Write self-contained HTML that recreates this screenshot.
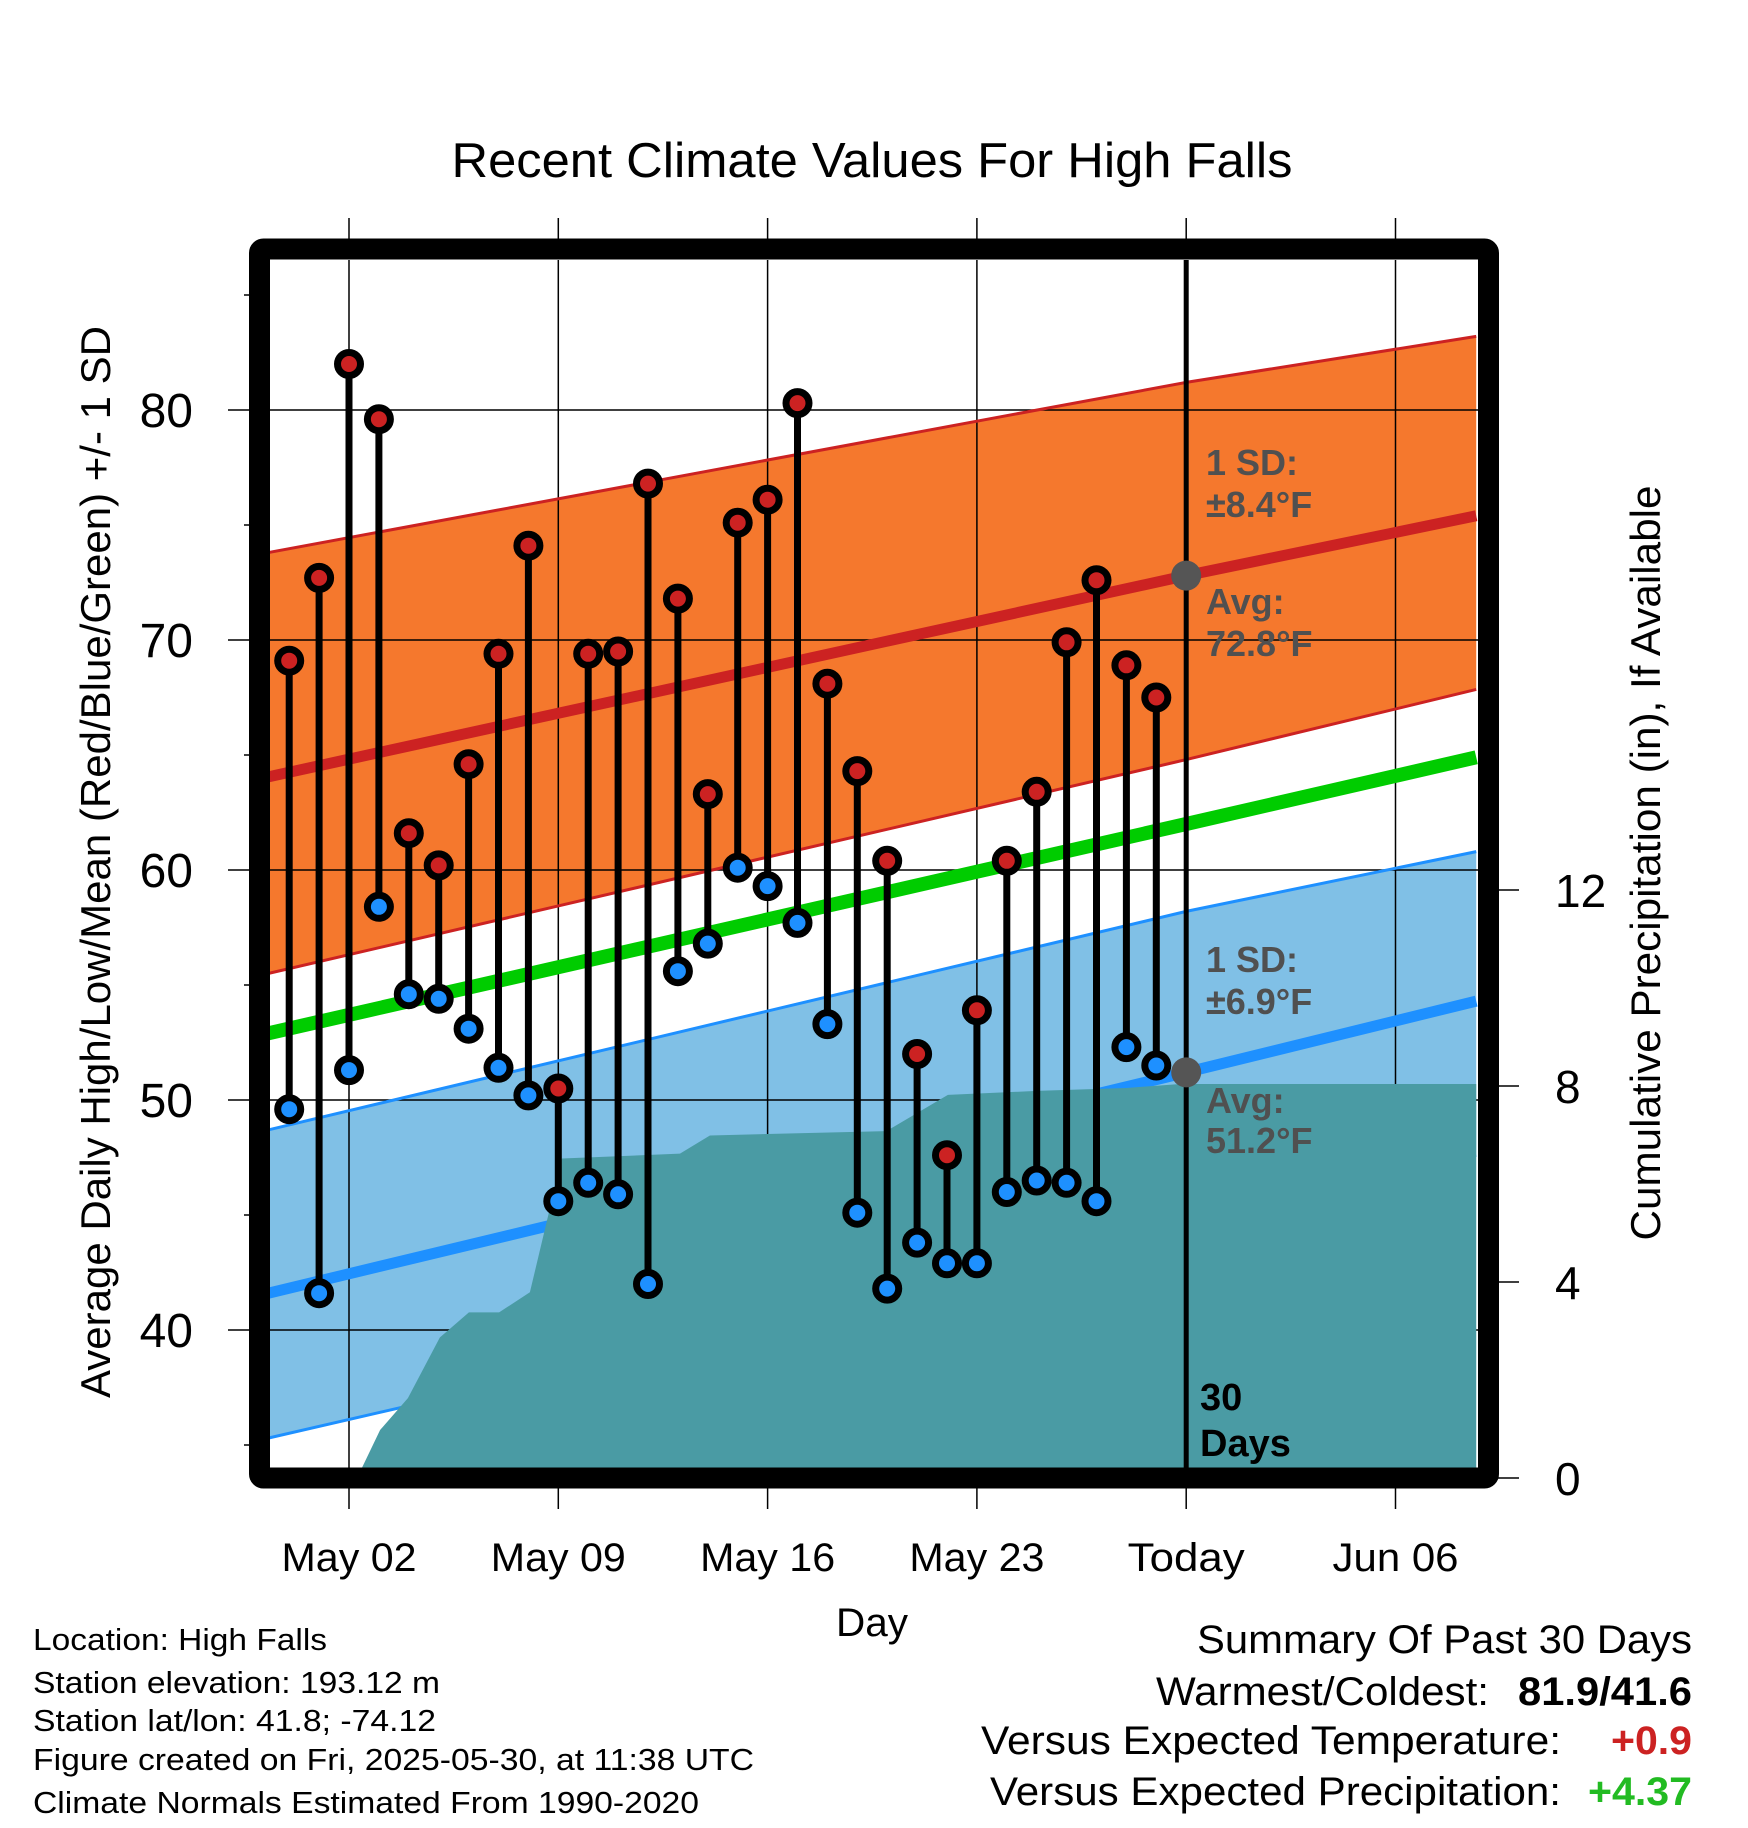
<!DOCTYPE html>
<html><head><meta charset="utf-8"><style>
html,body{margin:0;padding:0;background:#fff}
svg{display:block}
text{font-family:"Liberation Sans",Arial,sans-serif}
</style></head><body>
<svg id="chart" width="1748" height="1828" viewBox="0 0 1748 1828" xmlns="http://www.w3.org/2000/svg">
<defs><clipPath id="plotclip"><rect x="270" y="260" width="1208" height="1208"/></clipPath></defs>
<g id="plot" clip-path="url(#plotclip)"></g>
<g id="outside"></g>
<text x="872" y="177" text-anchor="middle" font-size="49" textLength="841" lengthAdjust="spacingAndGlyphs">Recent Climate Values For High Falls</text>
<text transform="translate(110,862) rotate(-90)" text-anchor="middle" font-size="42" textLength="1072" lengthAdjust="spacingAndGlyphs">Average Daily High/Low/Mean (Red/Blue/Green) +/- 1 SD</text>
<text transform="translate(1660,863) rotate(-90)" text-anchor="middle" font-size="42" textLength="755" lengthAdjust="spacingAndGlyphs">Cumulative Precipitation (in), If Available</text>
<text x="872" y="1636" text-anchor="middle" font-size="40" textLength="72" lengthAdjust="spacingAndGlyphs">Day</text>
<g font-size="31">
<text x="33" y="1650" textLength="294" lengthAdjust="spacingAndGlyphs">Location: High Falls</text>
<text x="33" y="1693" textLength="407" lengthAdjust="spacingAndGlyphs">Station elevation: 193.12 m</text>
<text x="33" y="1731" textLength="403" lengthAdjust="spacingAndGlyphs">Station lat/lon: 41.8; -74.12</text>
<text x="33" y="1770" textLength="721" lengthAdjust="spacingAndGlyphs">Figure created on Fri, 2025-05-30, at 11:38 UTC</text>
<text x="33" y="1813" textLength="666" lengthAdjust="spacingAndGlyphs">Climate Normals Estimated From 1990-2020</text>
</g>
<g font-size="40">
<text x="1692" y="1653" text-anchor="end" textLength="495" lengthAdjust="spacingAndGlyphs">Summary Of Past 30 Days</text>
<text x="1489" y="1705" text-anchor="end" textLength="333" lengthAdjust="spacingAndGlyphs">Warmest/Coldest:</text>
<text x="1692" y="1705" text-anchor="end" font-weight="bold" textLength="174" lengthAdjust="spacingAndGlyphs">81.9/41.6</text>
<text x="1561" y="1754" text-anchor="end" textLength="580" lengthAdjust="spacingAndGlyphs">Versus Expected Temperature:</text>
<text x="1692" y="1754" text-anchor="end" font-weight="bold" fill="#cc2222" textLength="81" lengthAdjust="spacingAndGlyphs">+0.9</text>
<text x="1561" y="1805" text-anchor="end" textLength="571" lengthAdjust="spacingAndGlyphs">Versus Expected Precipitation:</text>
<text x="1692" y="1805" text-anchor="end" font-weight="bold" fill="#22bb22" textLength="104" lengthAdjust="spacingAndGlyphs">+4.37</text>
</g>
</svg>
<script>
// ---- data ----
const dayIdx = [0,1,2,3,4,5,6,7,8,9,10,11,12,13,14,15,16,17,18,19,20,21,22,23,24,25,26,27,28,29];
const highs = [69.1,72.7,82.0,79.6,61.6,60.2,64.6,69.4,74.1,50.5,69.4,69.5,76.8,71.8,63.3,75.1,76.1,80.3,68.1,64.3,60.4,52.0,47.6,53.9,60.4,63.4,69.9,72.6,68.9,67.5];
const lows = [49.6,41.6,51.3,58.4,54.6,54.4,53.1,51.4,50.2,45.6,46.4,45.9,42.0,55.6,56.8,60.1,59.3,57.7,53.3,45.1,41.8,43.8,42.9,42.9,46.0,46.5,46.4,45.6,52.3,51.5];
const normDays = [-0.7,30,39.7];
const highAvg = [64.05,72.8,75.4];
const highUpper = [73.8,81.2,83.2];
const highLower = [55.5,64.8,67.85];
const lowAvg = [41.6,51.2,54.3];
const lowUpper = [48.7,58.2,60.8];
const lowLower = [35.3,44.5,47.6];
const meanAvg = [52.9,62.0,64.9];
const precipDays = [2.27,3.04,3.97,5.04,5.31,6.01,7.02,8.05,8.62,9.12,13.07,14.07,19.96,20.2,22.03,25.0,28.0,29.8,39.7];
const precipCum = [0,0.98,1.63,2.87,3.01,3.38,3.38,3.79,5.25,6.52,6.62,6.99,7.08,7.16,7.82,7.90,7.96,8.04,8.04];
const xTickDays = [2,9,16,23,30,37];
const xTickLabels = ["May 02","May 09","May 16","May 23","Today","Jun 06"];
const yTicks = [40,50,60,70,80];
const yMinorTicks = [35,45,55,65,75,85];
const y2Ticks = [0,4,8,12];
const todayDay = 30;

// ---- axes ----
const X = d => 349 + (d-2)*29.9;
const Y = t => 410 + (80-t)*23;
const YP = p => 1478 - p*49;
const NS = "http://www.w3.org/2000/svg";
const plot = document.getElementById('plot');
const outside = document.getElementById('outside');
const svg = document.getElementById('chart');
function mk(tag, attrs, parent){const e=document.createElementNS(NS,tag);for(const k in attrs)e.setAttribute(k,attrs[k]);(parent||plot).appendChild(e);return e;}
function linePts(days, vals){return days.map((d,i)=>X(d)+','+Y(vals[i])).join(' ');}
function bandPts(days, up, lo){const a=days.map((d,i)=>X(d)+','+Y(up[i]));const b=days.map((d,i)=>X(d)+','+Y(lo[i])).reverse();return a.concat(b).join(' ');}

// bands
let e;
e = mk('polygon',{points:bandPts(normDays,highUpper,highLower),fill:'#f5782d'});


e = mk('polygon',{points:bandPts(normDays,lowUpper,lowLower),fill:'#80c0e6'});



// gridlines
yTicks.forEach(t=>{
  e = mk('line',{x1:270,x2:1478,y1:Y(t),y2:Y(t),stroke:'#000','stroke-width':1.5});
  
  
});
xTickDays.forEach(d=>{
  e = mk('line',{x1:X(d),x2:X(d),y1:260,y2:1468,stroke:'#000','stroke-width':1.5});
  
  
});

// band edges
[[highUpper,'#cc2222',3],[highLower,'#cc2222',3],[lowUpper,'#1e90ff',3],[lowLower,'#1e90ff',3]].forEach(([v,c,w])=>{
  e = mk('polyline',{points:linePts(normDays,v),fill:'none',stroke:c,'stroke-width':w});
  
  
});
e = mk('polyline',{points:linePts(normDays,highAvg),fill:'none',stroke:'#cc2222','stroke-width':11});


e = mk('polyline',{points:linePts(normDays,lowAvg),fill:'none',stroke:'#1e90ff','stroke-width':11});



// precipitation
const pp = precipDays.map((d,i)=>X(d)+','+YP(precipCum[i]));
pp.push(X(precipDays[precipDays.length-1])+','+YP(0));
pp.push(X(precipDays[0])+','+YP(0));
e = mk('polygon',{points:pp.join(' '),fill:'#4a9ba4'});



// green mean
e = mk('polyline',{points:linePts(normDays,meanAvg),fill:'none',stroke:'#00cc00','stroke-width':14});



// today line
e = mk('line',{x1:X(todayDay),x2:X(todayDay),y1:260,y2:1468,stroke:'#000','stroke-width':5});



// stems and markers
dayIdx.forEach((d,i)=>{
  e = mk('line',{x1:X(d),x2:X(d),y1:Y(highs[i]),y2:Y(lows[i]),stroke:'#000','stroke-width':7});
  
  
});
dayIdx.forEach((d,i)=>{
  e = mk('circle',{cx:X(d),cy:Y(highs[i]),r:11.5,fill:'#cc2222',stroke:'#000','stroke-width':7});
  
  
  e = mk('circle',{cx:X(d),cy:Y(lows[i]),r:11.5,fill:'#1e90ff',stroke:'#000','stroke-width':7});
  
  
});

// today avg dots
e = mk('circle',{cx:X(todayDay),cy:Y(highAvg[1]),r:15,fill:'#555'});


e = mk('circle',{cx:X(todayDay),cy:Y(lowAvg[1]),r:15,fill:'#555'});



// annotations
const ann = [["1 SD:",475,'high-sd-label'],["±8.4°F",517,'high-sd-value'],["Avg:",614,'high-avg-label'],["72.8°F",656,'high-avg-value'],["1 SD:",972,'low-sd-label'],["±6.9°F",1014,'low-sd-value'],["Avg:",1113,'low-avg-label'],["51.2°F",1153,'low-avg-value']];
ann.forEach(a=>{
  e = mk('text',{x:1206,y:a[1],'font-size':36,'font-weight':'bold',fill:'#505050'});
  e.textContent = a[0];
  
  
});
e = mk('text',{x:1200,y:1410,'font-size':38,'font-weight':'bold',fill:'#000'});
e.textContent='30';


e = mk('text',{x:1200,y:1456,'font-size':38,'font-weight':'bold',fill:'#000'});
e.textContent='Days';



// outside gridline extensions and ticks
xTickDays.forEach((d,i)=>{
  e = mk('line',{x1:X(d),x2:X(d),y1:218,y2:250,stroke:'#000','stroke-width':1.5},outside);
  
  
  e = mk('line',{x1:X(d),x2:X(d),y1:1480,y2:1509,stroke:'#000','stroke-width':1.5},outside);
  
  
  e = mk('text',{x:X(d),y:1571,'text-anchor':'middle','font-size':40,textLength:(xTickLabels[i]==='Today'?117:(xTickLabels[i]==='Jun 06'?126:135)),lengthAdjust:'spacingAndGlyphs'},outside);
  e.textContent = xTickLabels[i];
  
  
});
yTicks.forEach(t=>{
  e = mk('line',{x1:228,x2:260,y1:Y(t),y2:Y(t),stroke:'#000','stroke-width':1.5},outside);
  
  
  e = mk('text',{x:193,y:Y(t)+17,'text-anchor':'end','font-size':48},outside);
  e.textContent = String(t);
  
  
});
yMinorTicks.forEach(t=>{
  e = mk('line',{x1:244,x2:260,y1:Y(t),y2:Y(t),stroke:'#000','stroke-width':1.5},outside);
  
  
});
y2Ticks.forEach(p=>{
  e = mk('line',{x1:1490,x2:1519,y1:YP(p),y2:YP(p),stroke:'#000','stroke-width':1.5},outside);
  
  
  e = mk('text',{x:1555,y:YP(p)+17,'font-size':46},outside);
  e.textContent = String(p);
  
  
});

// frame
e = mk('rect',{x:259.5,y:249,width:1229,height:1229,rx:4,fill:'none',stroke:'#000','stroke-width':21},outside);


</script>
</body></html>
